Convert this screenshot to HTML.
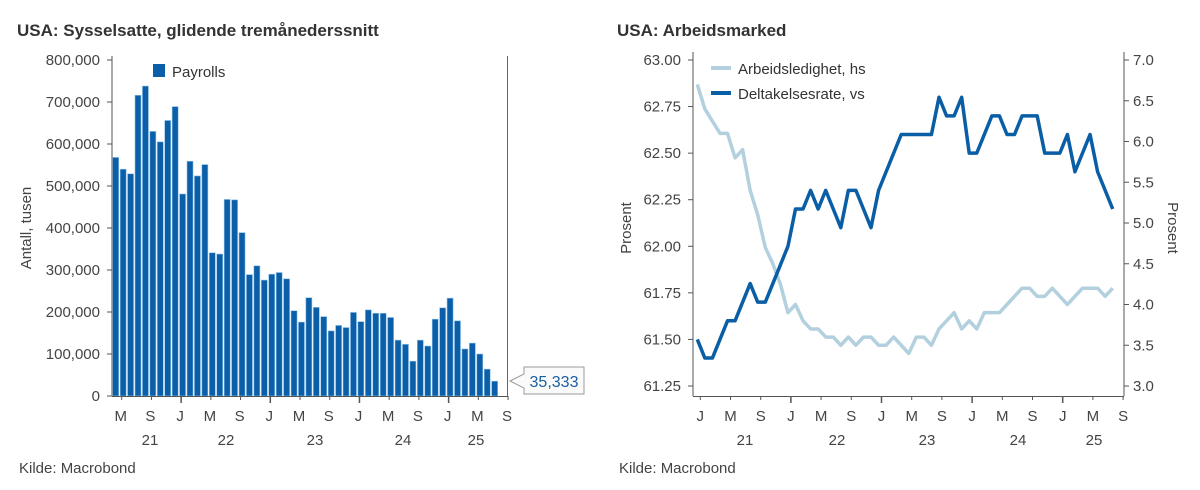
<!DOCTYPE html>
<html><head><meta charset="utf-8"><style>
html,body{margin:0;padding:0;background:#fff;width:1200px;height:490px;overflow:hidden}
svg{font-family:"Liberation Sans",Arial,sans-serif}
</style></head><body>
<svg id="svg" width="1200" height="490" viewBox="0 0 1200 490" xmlns="http://www.w3.org/2000/svg">
<text x="17" y="36" font-size="17" font-weight="bold" fill="#333">USA: Sysselsatte, glidende tremånederssnitt</text>
<text x="617" y="36" font-size="17" font-weight="bold" fill="#333">USA: Arbeidsmarked</text>
<text transform="translate(31,228) rotate(-90)" text-anchor="middle" font-size="15" fill="#444">Antall, tusen</text>
<text transform="translate(631,228) rotate(-90)" text-anchor="middle" font-size="15" fill="#444">Prosent</text>
<text transform="translate(1168,228) rotate(90)" text-anchor="middle" font-size="15" fill="#444">Prosent</text>
<text x="19" y="473" font-size="15" fill="#444">Kilde: Macrobond</text>
<text x="619" y="473" font-size="15" fill="#444">Kilde: Macrobond</text>
<g id="left"></g>
<g id="right"></g>
</svg>
<script>
const payrolls = [568,540,529,716,738,630,605,656,689,481,559,524,551,341,338,468,467,389,289,310,276,290,294,279,203,176,234,211,189,155,168,163,199,177,205,197,197,187,133,123,83,133,119,183,210,233,179,112,126,100,64,35.333];
const leftYTicks = [0,100,200,300,400,500,600,700,800];
const leftXLabels = ["M","S","J","M","S","J","M","S","J","M","S","J","M","S"];
const leftYears = ["21","22","23","24","25"];
const partRate = [61.50,61.40,61.40,61.50,61.60,61.60,61.70,61.80,61.70,61.70,61.80,61.90,62.00,62.20,62.20,62.30,62.20,62.30,62.20,62.10,62.30,62.30,62.20,62.10,62.30,62.40,62.50,62.60,62.60,62.60,62.60,62.60,62.80,62.70,62.70,62.80,62.50,62.50,62.60,62.70,62.70,62.60,62.60,62.70,62.70,62.70,62.50,62.50,62.50,62.60,62.40,62.50,62.60,62.40,62.30,62.20];
const unemp = [6.7,6.4,6.25,6.1,6.1,5.8,5.9,5.4,5.1,4.7,4.5,4.25,3.9,4.0,3.8,3.7,3.7,3.6,3.6,3.5,3.6,3.5,3.6,3.6,3.5,3.5,3.6,3.5,3.4,3.6,3.6,3.5,3.7,3.8,3.9,3.7,3.8,3.7,3.9,3.9,3.9,4.0,4.1,4.2,4.2,4.1,4.1,4.2,4.1,4.0,4.1,4.2,4.2,4.2,4.1,4.2];
const leftAxisTicks = [61.25,61.5,61.75,62.0,62.25,62.5,62.75,63.0];
const rightAxisTicks = [3.0,3.5,4.0,4.5,5.0,5.5,6.0,6.5,7.0];
const rightXLabels = ["J","M","S","J","M","S","J","M","S","J","M","S","J","M","S"];
const rightYears = ["21","22","23","24","25"];

const NS="http://www.w3.org/2000/svg";
function mk(parent,tag,attrs,text){const e=document.createElementNS(NS,tag);for(const k in attrs)e.setAttribute(k,attrs[k]);if(text!==undefined)e.textContent=text;parent.appendChild(e);return e;}

// LEFT CHART
const L=document.getElementById('left');
const lx0=112, lpitch=7.43, ly0=396, lyTop=60;
const ly=v=>ly0-(v/800)*(ly0-lyTop);
const lx=i=>lx0+i*lpitch;
let e;
e=mk(L,'line',{x1:112,y1:lyTop-4,x2:112,y2:396,stroke:'#555','stroke-width':1});


e=mk(L,'line',{x1:507.5,y1:lyTop-4,x2:507.5,y2:396,stroke:'#666','stroke-width':1});


leftYTicks.forEach(t=>{
  const y=ly(t*1000/1000);
  e=mk(L,'line',{x1:107,y1:y,x2:112,y2:y,stroke:'#555'});
  
  
  e=mk(L,'text',{x:100,y:y+5,'text-anchor':'end','font-size':15,fill:'#444'},t===0?'0':(t*1000).toLocaleString('en-US'));
  
  
});
payrolls.forEach((v,i)=>{
  e=mk(L,'rect',{x:lx(i)+0.7,y:ly(v),width:lpitch-1.4,height:ly0-ly(v),fill:'#0a5fa8',stroke:'#8fc0e6','stroke-width':0.6});
  
  
});
e=mk(L,'line',{x1:112,y1:396.5,x2:508,y2:396.5,stroke:'#555'});


leftXLabels.forEach((s,k)=>{
  const x=121.7+k*29.72;
  const major=(k%3===2);
  e=mk(L,'line',{x1:x,y1:396,x2:x,y2:major?403:400,stroke:'#555','stroke-width':major?1.5:1});
  
  
  e=mk(L,'text',{x:x-1,y:421,'text-anchor':'middle','font-size':15,fill:'#444'},s);
  
  
});
[150,226,315,403,476].forEach((x,k)=>{
  e=mk(L,'text',{x:x,y:445,'text-anchor':'middle','font-size':15,fill:'#444'},leftYears[k]);
  
  
});
e=mk(L,'rect',{x:153,y:64,width:12,height:13,fill:'#0a5fa8'});


e=mk(L,'text',{x:172,y:77,'font-size':15,fill:'#333'},'Payrolls');


const last=payrolls[payrolls.length-1];
const cy=381;
e=mk(L,'path',{d:`M510,${cy} L524,${cy-7} L524,367 L584,367 L584,394 L524,394 L524,${cy+7} Z`,fill:'#fafafa',stroke:'#999','stroke-width':1});


e=mk(L,'text',{x:554,y:387,'text-anchor':'middle','font-size':16,fill:'#1a5fa0'},last.toFixed(3).replace('.',','));



// RIGHT CHART
const R=document.getElementById('right');
const rx0=693, rx1=1124, ry0=386, ryTop=60;
const yL=v=>ryTop+(63-v)/1.75*(ry0-ryTop);
const yR=v=>ryTop+(7-v)/4*(ry0-ryTop);
const rx=i=>697.3+i*7.553;
e=mk(R,'line',{x1:rx0,y1:52,x2:rx0,y2:396,stroke:'#555'});


e=mk(R,'line',{x1:rx1,y1:52,x2:rx1,y2:396,stroke:'#555'});


e=mk(R,'line',{x1:rx0,y1:396.5,x2:rx1,y2:396.5,stroke:'#555'});


leftAxisTicks.forEach(t=>{
  const y=yL(t);
  e=mk(R,'line',{x1:688,y1:y,x2:693,y2:y,stroke:'#555'});
  
  
  e=mk(R,'text',{x:681,y:y+5,'text-anchor':'end','font-size':15,fill:'#444'},t.toFixed(2));
  
  
});
rightAxisTicks.forEach(t=>{
  const y=yR(t);
  e=mk(R,'line',{x1:1124,y1:y,x2:1129,y2:y,stroke:'#555'});
  
  
  e=mk(R,'text',{x:1133,y:y+5,'font-size':15,fill:'#444'},t.toFixed(1));
  
  
});
rightXLabels.forEach((s,k)=>{
  const x=700.3+k*30.2;
  const major=(k%3===0)&&k>0&&k<14;
  e=mk(R,'line',{x1:x,y1:396,x2:x,y2:major?403:400,stroke:'#555','stroke-width':major?1.5:1});
  
  
  e=mk(R,'text',{x:x,y:421,'text-anchor':'middle','font-size':15,fill:'#444'},s);
  
  
});
[745,837,927,1018,1094].forEach((x,k)=>{
  e=mk(R,'text',{x:x,y:445,'text-anchor':'middle','font-size':15,fill:'#444'},rightYears[k]);
  
  
});
e=mk(R,'polyline',{points:unemp.map((v,i)=>rx(i)+','+yR(v)).join(' '),fill:'none',stroke:'#b3d0de','stroke-width':3.5,'stroke-linejoin':'round'});


e=mk(R,'polyline',{points:partRate.map((v,i)=>rx(i)+','+yL(v)).join(' '),fill:'none',stroke:'#0a5ea6','stroke-width':3.5,'stroke-linejoin':'round'});


e=mk(R,'line',{x1:711,y1:68,x2:731,y2:68,stroke:'#b3d0de','stroke-width':4});


e=mk(R,'text',{x:738,y:74,'font-size':15,fill:'#333'},'Arbeidsledighet, hs');


e=mk(R,'line',{x1:711,y1:93,x2:731,y2:93,stroke:'#0a5ea6','stroke-width':4});


e=mk(R,'text',{x:738,y:99,'font-size':15,fill:'#333'},'Deltakelsesrate, vs');


</script>
</body></html>
